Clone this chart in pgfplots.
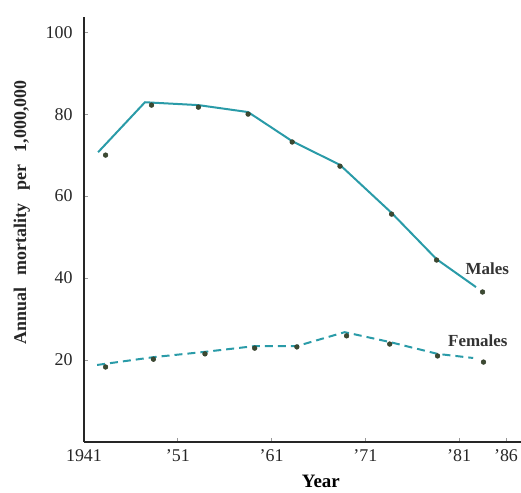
\documentclass[border=0pt]{standalone}
\usepackage{pgfplots}
\pgfplotsset{compat=1.18}
\usepackage{fontspec}
\setmainfont{Liberation Serif}

\definecolor{trend}{HTML}{2A9BA8}
\definecolor{obs}{HTML}{3C4A32}

\begin{document}
\begin{tikzpicture}
\useasboundingbox (0,0) rectangle (521bp,493bp);
\begin{axis}[
  at={(84bp,51bp)}, anchor=south west,
  scale only axis, width=437bp, height=425bp,
  xmin=1941, xmax=1987.6, ymin=0, ymax=103.7,
  axis x line*=bottom, axis y line*=left,
  axis line style={line width=1.4bp, black!85},
  xtick={1941,1951,1961,1971,1981,1986},
  xticklabels={1941,'51,'61,'71,'81,'86},
  ytick={20,40,60,80,100},
  tick align=inside,
  major tick length=4bp,
  tick style={gray!80, line width=0.9bp},
  /pgf/number format/assume math mode=true,
  ticklabel style={font=\fontsize{18}{20}\selectfont, text=black!85},
  xticklabel style={yshift=-4bp},
  yticklabel style={xshift=-8bp},
  xlabel={\textbf{Year}},
  xlabel style={font=\fontsize{19}{21}\selectfont, at={(axis description cs:0.542,-0.092)}, anchor=center},
  ylabel={\textbf{Annual\hspace{0.7em}mortality\hspace{0.7em}per\hspace{0.7em}1,000,000}},
  ylabel style={font=\fontsize{18}{20}\selectfont, at={(axis description cs:-0.142,0.54)}, anchor=center, text=black!85},
  clip=false,
]
% trend lines
\addplot[trend, line width=2bp] coordinates {
  (1942.5,70.7) (1947.5,82.9) (1953.2,82.2) (1958.5,80.5) (1963.2,73.4)
  (1968.3,67.6) (1973.8,55.9) (1978.6,44.6) (1982.8,37.8)};
\addplot[trend, line width=2bp, dash pattern=on 8bp off 5bp] coordinates {
  (1942.4,18.8) (1948.4,20.7) (1953.9,22.0) (1959.2,23.4) (1963.7,23.4)
  (1968.8,26.8) (1973.6,24.4) (1978.7,21.5) (1982.5,20.5)};
% observed rates
\addplot[only marks, mark=*, mark size=2.4bp, mark options={fill=obs, draw=obs!80!black}] coordinates {
  (1943.3,70.0) (1948.2,82.2) (1953.2,81.7) (1958.5,80.0) (1963.2,73.2)
  (1968.3,67.3) (1973.8,55.6) (1978.6,44.4) (1983.5,36.6)};
\addplot[only marks, mark=*, mark size=2.4bp, mark options={fill=obs, draw=obs!80!black}] coordinates {
  (1943.3,18.3) (1948.4,20.2) (1953.9,21.5) (1959.2,22.9) (1963.7,23.2)
  (1969.0,25.9) (1973.6,23.9) (1978.7,21.0) (1983.6,19.5)};
\node[font=\bfseries\fontsize{17}{19}\selectfont, text=black!80] at (axis cs:1984.0,42.3) {Males};
\node[font=\bfseries\fontsize{17}{19}\selectfont, text=black!80] at (axis cs:1983.0,24.8) {Females};
\end{axis}
\end{tikzpicture}
\end{document}
